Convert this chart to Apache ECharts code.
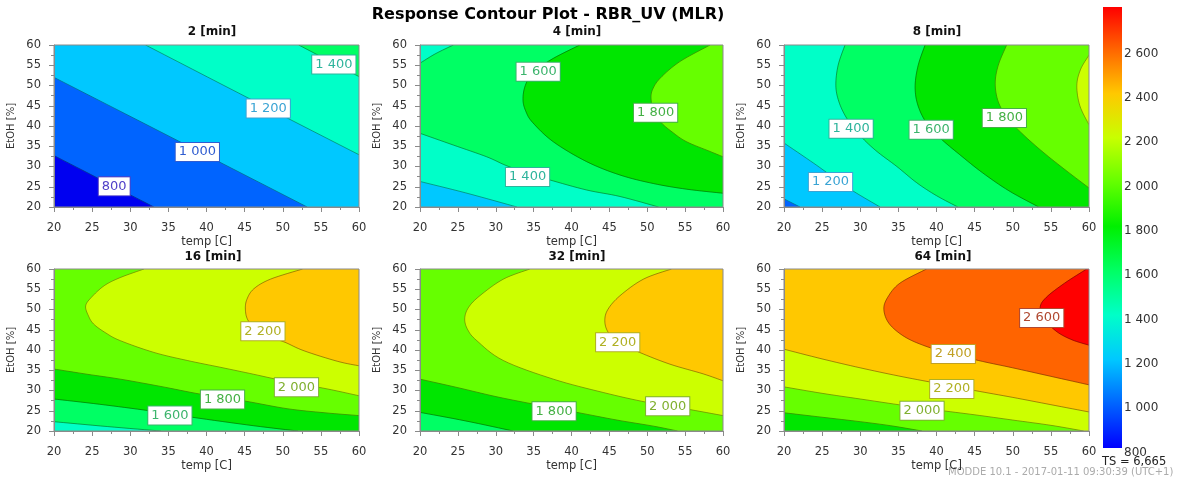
<!DOCTYPE html>
<html><head><meta charset="utf-8">
<script src="https://cdn.jsdelivr.net/npm/echarts@6/dist/echarts.min.js"></script>
<style>html,body{margin:0;padding:0;background:#fff}#c{width:1182px;height:479px}</style>
</head><body><div id="c"></div>
<script>
// ---------------- data ----------------
const mainTitle = 'Response Contour Plot - RBR_UV (MLR)';
const panelTitles = ['2 [min]', '4 [min]', '8 [min]', '16 [min]', '32 [min]', '64 [min]'];
const xName = 'temp [C]';
const yName = 'EtOH [%]';
const axisMin = 20, axisMax = 60, axisStep = 5;
const cbMin = 800, cbMax = 2790, cbStep = 200;
const tsText = 'TS = 6,665';
const footText = 'MODDE 10.1 - 2017-01-11 09:30:39 (UTC+1)';

// colour bar gradient stops [value, colour]
const cbStops = [[800,'#0000FF'],[1000,'#0064FF'],[1200,'#00C8FF'],[1400,'#00FFC8'],[1600,'#00FF64'],
  [1800,'#00F000'],[2000,'#64FF00'],[2200,'#C8FF00'],[2400,'#FFC800'],[2600,'#FF6400'],[2790,'#FF0000']];
// fill colour of the band whose upper bound is the key
const bandColor = {800:'#0000F0',1000:'#0064FF',1200:'#00C8FF',1400:'#00FFC8',1600:'#00FF64',
  1800:'#00E600',2000:'#66FF00',2200:'#CCFF00',2400:'#FFC800',2600:'#FF6400',2800:'#FF0000'};
const labelColor = {800:'#5040C8',1000:'#2F5CD0',1200:'#3AA4D4',1400:'#2EB49C',1600:'#3CB46C',
  1800:'#44B044',2000:'#80B030',2200:'#B0B024',2400:'#C0A024',2600:'#B04830'};

// contour lines: l = contour polyline [temp, EtOH], c = domain corners closing the high side
const p1Base = 800;
const p1Contours = [
  {level:800,  path:[{l:[[20,32.7],[26.5,26.4],[33.1,20]]},{c:[[60,20],[60,60],[20,60]]}]},
  {level:1000, path:[{l:[[20,52],[36,36.6],[53.2,20]]},{c:[[60,20],[60,60],[20,60]]}]},
  {level:1200, path:[{l:[[32,60],[46,46.4],[60,32.9]]},{c:[[60,60]]}]},
  {level:1400, path:[{l:[[52.1,60],[60,52.2]]},{c:[[60,60]]}]}
];
const p1Labels = [[27.9,25.1,800],[38.8,33.6,1000],[48.1,44.3,1200],[56.7,55.2,1400]];

const p2Base = 1200;
const p2Contours = [
  {level:1200, path:[{l:[[20,26.3],[26,23.5],[32.8,20]]},{c:[[60,20],[60,60],[20,60]]}]},
  {level:1400, path:[{l:[[20,38.2],[24.4,35.3],[28.8,32.4],[31.3,30.3],[34.2,28.3],[37.1,26.7],[42,24.2],[46.4,22.6],[51.5,20]]},{c:[[60,20],[60,60]]},{l:[[24.4,60],[22,57.8],[20,55.5]]}]},
  {level:1600, path:[{l:[[41.1,60],[37.6,56.7],[35,53.4],[33.9,50],[33.6,46.4],[34,43.5],[34.9,40.8],[37.6,36.1],[42,31.2],[46.4,27.9],[50.8,25.8],[55.2,24.4],[60,23.4]]},{c:[[60,60]]}]},
  {level:1800, path:[{l:[[58.3,60],[54.3,55.9],[51.7,51.8],[50.7,49],[50.5,46.8],[50.8,44],[51.7,41.1],[53.3,38.5],[55.2,36.1],[58.3,33.7],[60,32.4]]},{c:[[60,60]]}]}
];
const p2Labels = [[35.6,53.4,1600],[51.1,43.3,1800],[34.2,27.4,1400]];

const p3Base = 1000;
const p3Contours = [
  {level:1000, path:[{l:[[20,22],[22.1,20]]},{c:[[60,20],[60,60],[20,60]]}]},
  {level:1200, path:[{l:[[20,35.8],[23.9,30.8],[26.5,27.3],[29.1,23.9],[32.6,20]]},{c:[[60,20],[60,60],[20,60]]}]},
  {level:1400, path:[{l:[[28,60],[27.1,55],[26.8,50],[27.2,46],[28.2,42],[29.8,38],[32,34],[34.8,30],[37.4,26],[40,22.8],[42.8,20]]},{c:[[60,20],[60,60]]}]},
  {level:1600, path:[{l:[[38.5,60],[37.6,55],[37.2,50],[37.5,45.5],[38.6,41],[40.5,37],[43,33],[46,28.5],[49.5,24],[53.4,20]]},{c:[[60,20],[60,60]]}]},
  {level:1800, path:[{l:[[49.2,60],[48.1,55],[47.7,50.5],[48.1,46],[49.3,42],[51.3,38],[54,33.5],[57,29],[60,24.7]]},{c:[[60,60]]}]},
  {level:2000, path:[{l:[[60,57.5],[58.9,54],[58.4,50],[58.8,45],[60,40.3]]}]}
];
const p3Labels = [[26.1,26.2,1200],[28.8,39.3,1400],[39.3,39.1,1600],[48.9,42,1800]];

const p4Base = 1400;
const p4Contours = [
  {level:1400, path:[{l:[[20,22.3],[27,21.1],[34,20]]},{c:[[60,20],[60,60],[20,60]]}]},
  {level:1600, path:[{l:[[20,27.9],[26,26.6],[32.5,25],[38.1,23.4],[46.2,21.3],[52,20]]},{c:[[60,20],[60,60],[20,60]]}]},
  {level:1800, path:[{l:[[20,35.3],[24.4,34],[28.7,32.8],[34,31],[39.2,29.1],[45,27.4],[50.6,25.5],[55.5,24.5],[60,23.8]]},{c:[[60,60],[20,60]]}]},
  {level:2000, path:[{l:[[31.8,60],[28.7,57.9],[26.6,55.9],[24.9,53],[24.15,50.9],[24.5,48.5],[25.2,46.4],[26.8,44.2],[28.7,42.3],[33.1,39.4],[37.5,37.4],[41.9,35.7],[46.2,34],[50.6,32.2],[55.8,30.4],[60,28.7]]},{c:[[60,60]]}]},
  {level:2200, path:[{l:[[52.6,60],[48.4,57.5],[46.2,55.1],[45.3,52.5],[45.1,50.1],[45.4,47.5],[46.5,45],[48.3,43.2],[50.3,41.9],[52.8,39.8],[57.2,37.2],[60,36.1]]},{c:[[60,60]]}]}
];
const p4Labels = [[47.4,44.6,2200],[51.8,30.8,2000],[42.1,27.8,1800],[35.2,23.8,1600]];

const p5Base = 1600;
const p5Contours = [
  {level:1600, path:[{l:[[20,24.6],[26,22.5],[32.3,20]]},{c:[[60,20],[60,60],[20,60]]}]},
  {level:1800, path:[{l:[[20,32.8],[25,30.7],[30,28.5],[34.8,26.7],[40.7,24.6],[46,22.7],[50.8,21.2],[54,20]]},{c:[[60,20],[60,60],[20,60]]}]},
  {level:2000, path:[{l:[[34.5,60],[31,57.5],[27.9,53.4],[26.4,50.5],[25.9,47.7],[26.3,45],[27.5,42.3],[31,37.4],[37.6,32.8],[44.2,29.5],[49.9,27.1],[55,25.5],[60,23.8]]},{c:[[60,60]]}]},
  {level:2200, path:[{l:[[53.2,60],[49.5,57.5],[46.4,53.4],[44.8,50],[44.4,47.2],[44.8,44.5],[46,42],[49,39.4],[53,36.5],[57.4,34.1],[60,32.4]]},{c:[[60,60]]}]}
];
const p5Labels = [[46.1,41.9,2200],[52.7,26.1,2000],[37.7,24.9,1800]];

const p6Base = 1800;
const p6Contours = [
  {level:1800, path:[{l:[[20,24.5],[25,23.4],[30,22.3],[34,21.3],[38.1,20]]},{c:[[60,20],[60,60],[20,60]]}]},
  {level:2000, path:[{l:[[20,30.9],[25,29.3],[30,27.9],[35,26.5],[40,25.2],[45,24],[50,22.7],[55,21.4],[59.3,20]]},{c:[[60,20],[60,60],[20,60]]}]},
  {level:2200, path:[{l:[[20,40.2],[25,37.8],[30,35.6],[35,33.6],[40,31.8],[45,30],[50,28.3],[55,26.5],[60,24.7]]},{c:[[60,60],[20,60]]}]},
  {level:2400, path:[{l:[[38.7,60],[35.2,56.5],[33.6,53],[33.1,50],[33.8,46.5],[35.8,43.3],[38.5,41],[42,39],[46,37.2],[50,35.6],[55,33.5],[60,31.4]]},{c:[[60,60]]}]},
  {level:2600, path:[{l:[[59.7,60],[56.8,56.5],[54.4,53],[53.6,50.5],[54.2,47.5],[55.8,44.5],[57.8,42.5],[60,41.2]]},{c:[[60,60]]}]}
];
const p6Labels = [[53.8,47.9,2600],[42.2,39,2400],[42,30.4,2200],[38.1,25,2000]];

// ---------------- chart ----------------
const panels = [
  {base:p1Base, contours:p1Contours, labels:p1Labels},
  {base:p2Base, contours:p2Contours, labels:p2Labels},
  {base:p3Base, contours:p3Contours, labels:p3Labels},
  {base:p4Base, contours:p4Contours, labels:p4Labels},
  {base:p5Base, contours:p5Contours, labels:p5Labels},
  {base:p6Base, contours:p6Contours, labels:p6Labels}
];
const gridPos = [
  {left:54, top:45, width:305}, {left:420, top:45, width:303}, {left:784, top:45, width:305},
  {left:54, top:269, width:305}, {left:420, top:269, width:303}, {left:784, top:269, width:305}
];
const titlePos = [[212,26],[577,26],[937,26],[213,251],[577,251],[943,251]];

function fmt(v){ v = Math.round(v); return v >= 1000 ? Math.floor(v/1000) + ' ' + String(v % 1000).padStart(3,'0') : String(v); }

// render-time smoothing of a pixel polyline (Catmull-Rom drawing curve, like smooth:true)
function smoothPx(pts){
  if (pts.length < 3) return pts.slice();
  const out = [], n = pts.length, steps = 8;
  for (let i = 0; i < n - 1; i++) {
    const p0 = pts[Math.max(i - 1, 0)], p1 = pts[i], p2 = pts[i + 1], p3 = pts[Math.min(i + 2, n - 1)];
    for (let s = 0; s < steps; s++) {
      const t = s / steps, t2 = t * t, t3 = t2 * t;
      const f = k => 0.5 * ((2 * p1[k]) + (-p0[k] + p2[k]) * t + (2 * p0[k] - 5 * p1[k] + 4 * p2[k] - p3[k]) * t2 + (-p0[k] + 3 * p1[k] - 3 * p2[k] + p3[k]) * t3);
      out.push([f(0), f(1)]);
    }
  }
  out.push(pts[n - 1]);
  return out;
}

function buildRegions(p){
  const regs = [{color: bandColor[p.base], path: [{c: [[axisMin,axisMin],[axisMax,axisMin],[axisMax,axisMax],[axisMin,axisMax]]}]}];
  p.contours.forEach(ct => regs.push({color: bandColor[ct.level + 200], path: ct.path}));
  return regs;
}

const grids = [], xAxes = [], yAxes = [], series = [], titles = [];
titles.push({text: mainTitle, left: 548, top: 7, textAlign: 'center', padding: 0,
  textStyle: {fontSize: 16, fontWeight: 'bold', color: '#000', fontFamily: 'DejaVu Sans'}});

panels.forEach((p, i) => {
  const g = gridPos[i];
  grids.push({left: g.left, top: g.top, width: g.width, height: 162, show: true, borderColor: '#8a8a8a', borderWidth: 1, backgroundColor: 'transparent', z: 10});
  const axCommon = {
    gridIndex: i, type: 'value', min: axisMin, max: axisMax, interval: axisStep, nameLocation: 'middle', z: 10,
    axisLine: {show: true, lineStyle: {color: '#8a8a8a'}},
    axisTick: {show: true, length: 5, lineStyle: {color: '#8a8a8a'}},
    minorTick: {show: true, splitNumber: 2, length: 3, lineStyle: {color: '#8a8a8a'}},
    splitLine: {show: false},
    axisLabel: {fontSize: 11.5, color: '#333', fontFamily: 'DejaVu Sans'}
  };
  xAxes.push(Object.assign({}, axCommon, {name: xName, nameGap: 29,
    nameTextStyle: {fontSize: 11.5, color: '#333', fontFamily: 'DejaVu Sans'},
    axisLabel: Object.assign({}, axCommon.axisLabel, {margin: 15})}));
  yAxes.push(Object.assign({}, axCommon, {name: yName, nameGap: 38,
    nameTextStyle: {fontSize: 10, color: '#333', fontFamily: 'DejaVu Sans'},
    axisLabel: Object.assign({}, axCommon.axisLabel, {margin: 13})}));
  titles.push({text: panelTitles[i], left: titlePos[i][0], top: titlePos[i][1], textAlign: 'center', padding: 0,
    textStyle: {fontSize: 12, fontWeight: 'bold', color: '#111', fontFamily: 'DejaVu Sans'}});

  const regs = buildRegions(p);
  series.push({
    type: 'custom', xAxisIndex: i, yAxisIndex: i, coordinateSystem: 'cartesian2d', silent: true, clip: true, z: 2,
    encode: {x: 0, y: 1},
    data: regs.map((r, k) => [axisMin, axisMin, k]),
    renderItem: (params, api) => {
      const r = regs[api.value(2)];
      const poly = [], lines = [];
      r.path.forEach(seg => {
        if (seg.l) { const sp = smoothPx(seg.l.map(pt => api.coord(pt))); poly.push(...sp); lines.push(sp); }
        else poly.push(...seg.c.map(pt => api.coord(pt)));
      });
      const children = [{type: 'polygon', shape: {points: poly}, style: {fill: r.color, stroke: r.color, lineWidth: 0.6}}];
      lines.forEach(ln => children.push({type: 'polyline', shape: {points: ln},
        style: {stroke: 'rgba(0,0,0,0.35)', lineWidth: 1, fill: null}}));
      return {type: 'group', children};
    }
  });
  series.push({
    type: 'scatter', xAxisIndex: i, yAxisIndex: i, silent: true, z: 5,
    symbol: 'rect', symbolSize: 1, itemStyle: {color: 'rgba(0,0,0,0)', opacity: 1},
    data: p.labels.map(l => ({value: [l[0], l[1]], name: fmt(l[2]),
      label: {color: labelColor[l[2]], borderColor: labelColor[l[2]]}})),
    label: {show: true, position: 'inside', formatter: '{b}', fontSize: 13, fontFamily: 'DejaVu Sans', opacity: 1,
      backgroundColor: '#fff', borderWidth: 1, padding: [2, 3, 1, 3], lineHeight: 15}
  });
});

// colour bar
grids.push({left: 1103, top: 7, width: 19, height: 441});
xAxes.push({gridIndex: 6, type: 'value', min: 0, max: 1, show: false});
yAxes.push({gridIndex: 6, type: 'value', min: cbMin, max: cbMax, interval: cbStep, position: 'right',
  axisLine: {show: false}, axisTick: {show: false}, splitLine: {show: false},
  axisLabel: {margin: 2, fontSize: 12, color: '#333', fontFamily: 'DejaVu Sans', showMaxLabel: false,
    verticalAlign: 'top', lineHeight: 9, formatter: v => (v % cbStep === 0 ? fmt(v) : '')}});
series.push({
  type: 'custom', xAxisIndex: 6, yAxisIndex: 6, silent: true, encode: {x: 0, y: 1},
  data: [[0, cbMin, 1, cbMax]],
  renderItem: (params, api) => {
    const a = api.coord([api.value(0), api.value(3)]);
    const b = api.coord([api.value(2), api.value(1)]);
    return {type: 'rect', shape: {x: a[0], y: a[1], width: b[0] - a[0], height: b[1] - a[1]},
      style: {fill: {type: 'linear', x: 0, y: 1, x2: 0, y2: 0,
        colorStops: cbStops.map(s => ({offset: (s[0] - cbMin) / (cbMax - cbMin), color: s[1]}))}}};
  }
});

titles.push({text: tsText, left: 1102, top: 456, padding: 0,
  textStyle: {fontSize: 11.5, fontWeight: 'normal', color: '#222', fontFamily: 'DejaVu Sans'}});
titles.push({text: footText, left: 948, top: 467, padding: 0,
  textStyle: {fontSize: 10, fontWeight: 'normal', color: '#ababab', fontFamily: 'DejaVu Sans'}});

const chart = echarts.init(document.getElementById('c'), null, {renderer: 'canvas'});
chart.setOption({
  animation: false,
  backgroundColor: '#fff',
  textStyle: {fontFamily: 'DejaVu Sans'},
  title: titles, grid: grids, xAxis: xAxes, yAxis: yAxes, series: series
});
</script></body></html>
